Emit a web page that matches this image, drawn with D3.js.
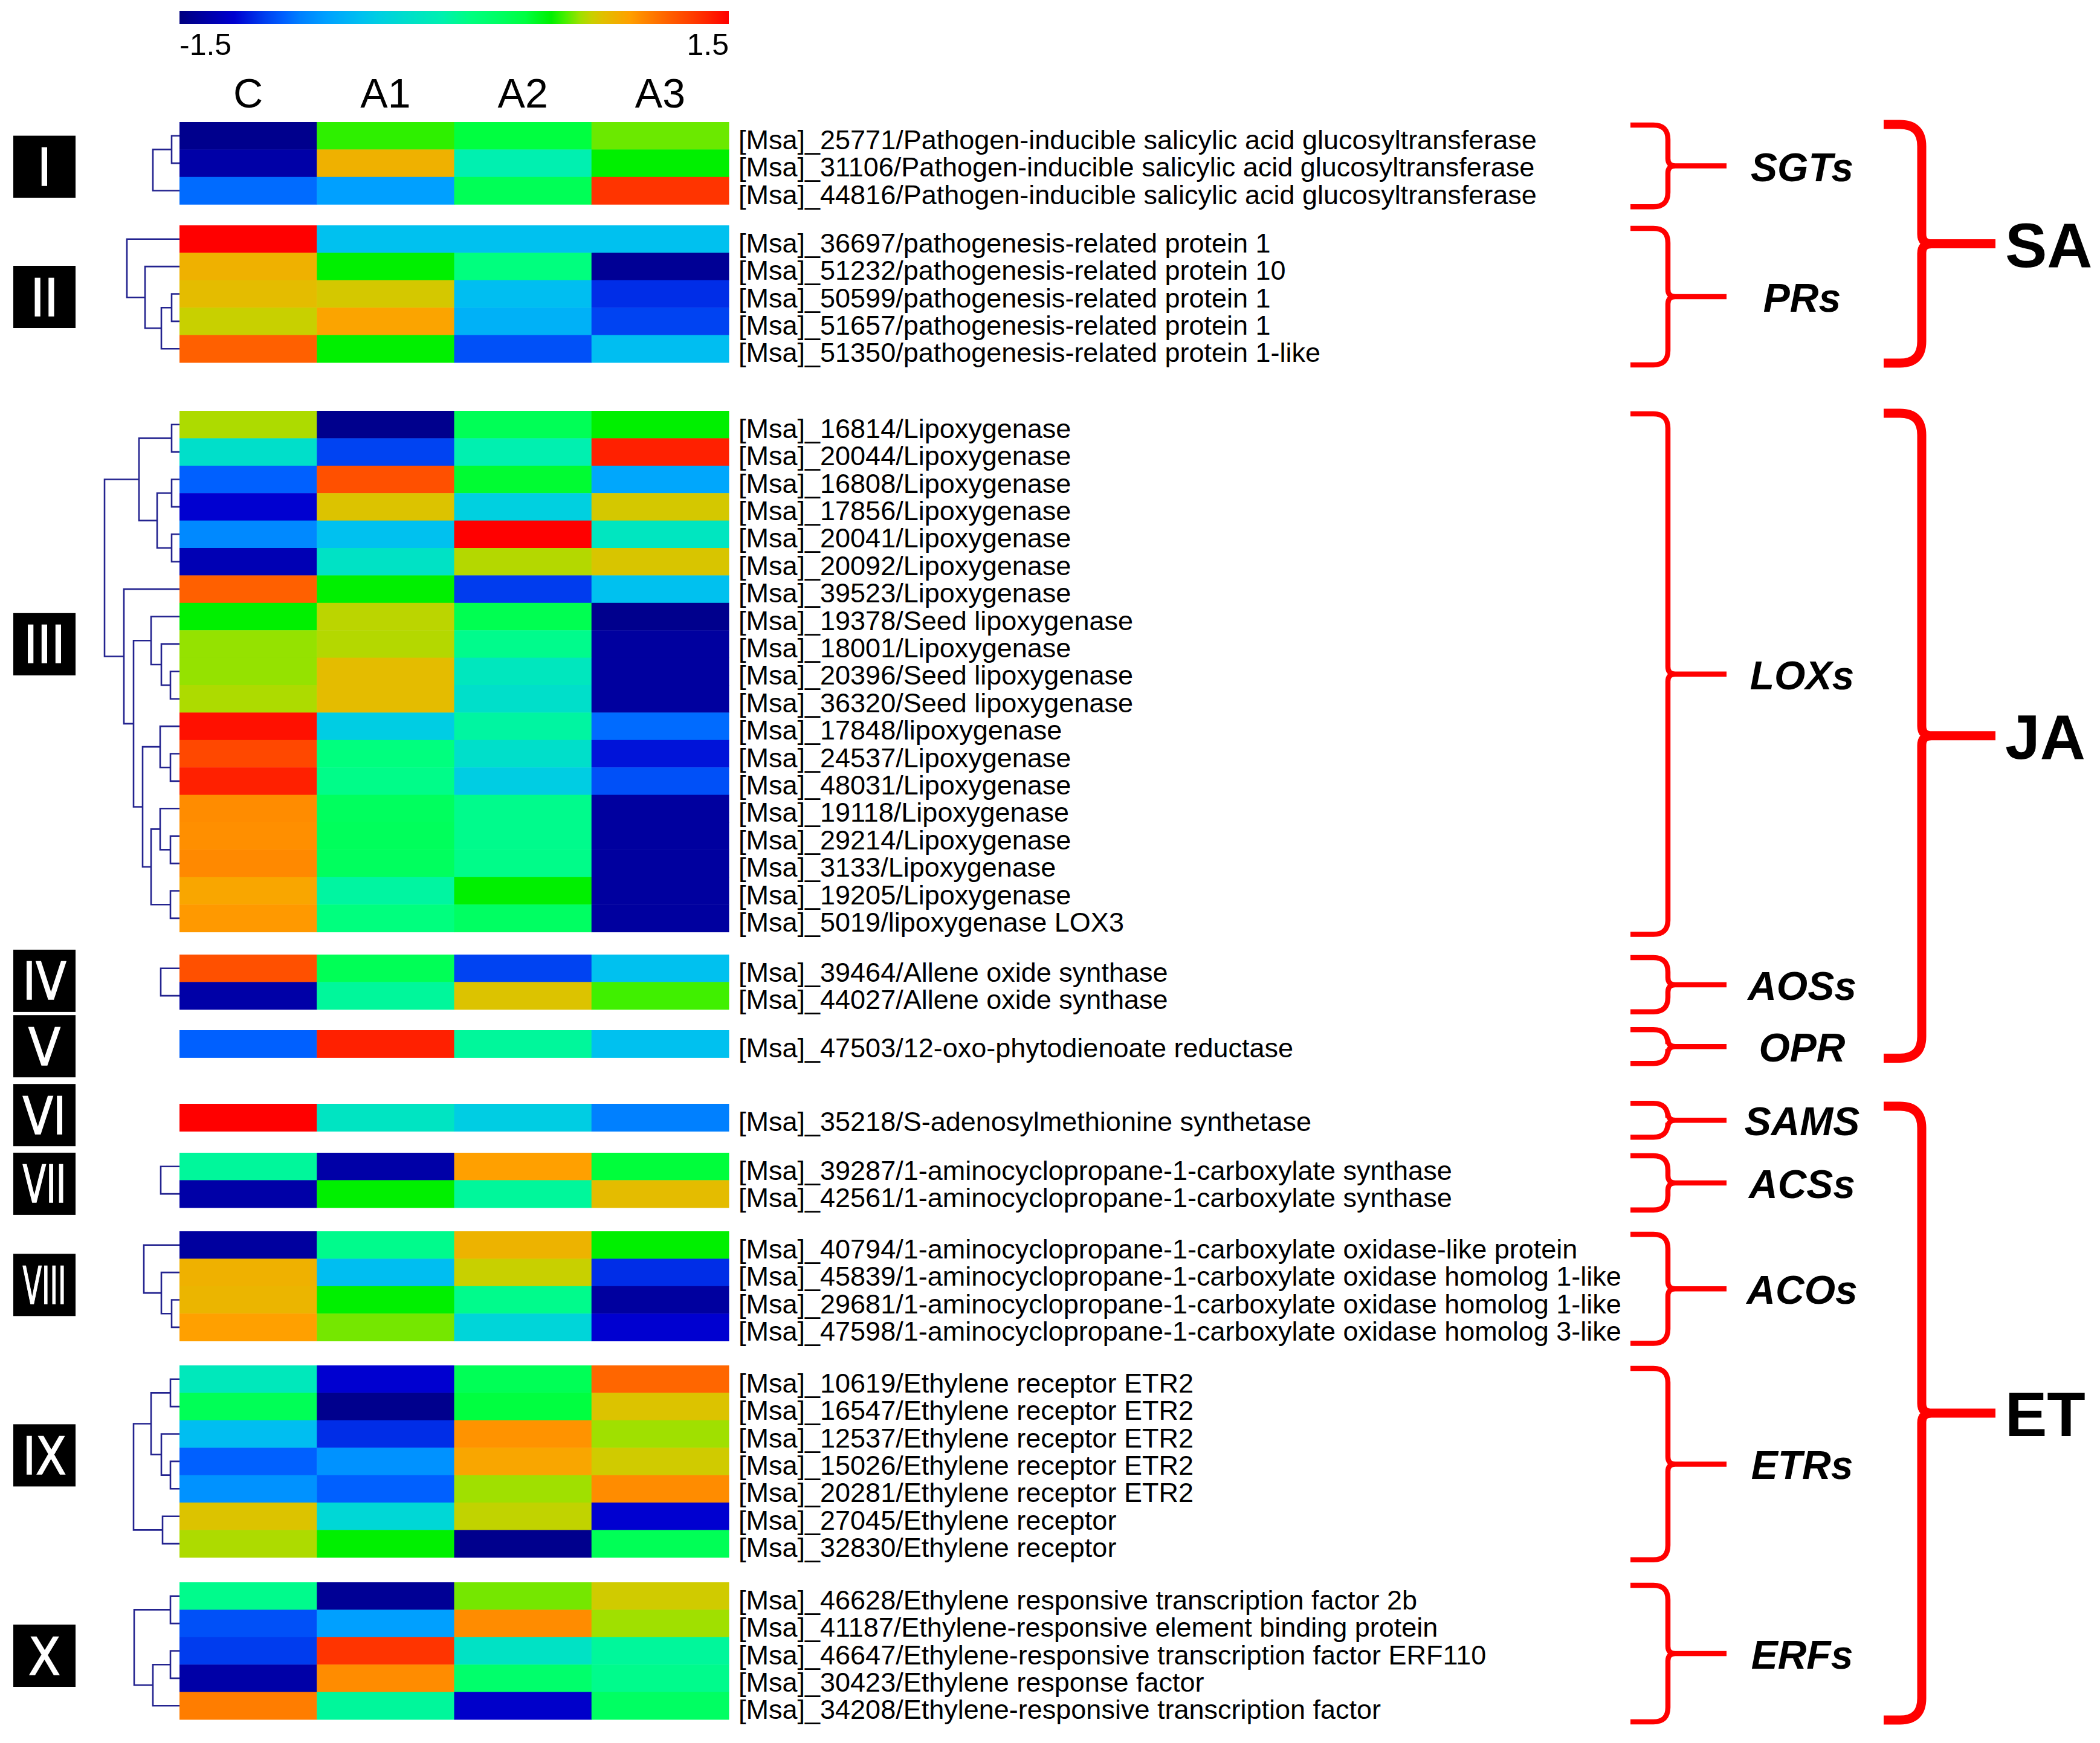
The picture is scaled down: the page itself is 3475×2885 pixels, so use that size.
<!DOCTYPE html>
<html><head><meta charset="utf-8">
<script src="https://cdn.jsdelivr.net/npm/d3@7"></script>
<style>html,body{margin:0;padding:0;background:#fff;} svg{display:block;}</style>
</head><body>
<svg id="chart" width="3475" height="2885"></svg>
<script>
// ---------------- DATA ----------------
const columns = ["C", "A1", "A2", "A3"];
const colorbarTicks = ["-1.5", "1.5"];
const colorDomain = [-1.5, 1.5];
const sectionNames = ["I", "II", "III", "IV", "V", "VI", "VII", "VIII", "IX", "X"];

const colorStopValues = [-1.5,-1.3,-1.2,-1.03,-0.93,-0.84,-0.7,-0.51,-0.4,-0.24,-0.07,0.09,0.26,0.39,0.53,0.6,0.69,0.75,0.81,0.885,0.96,1.02,1.17,1.29,1.4,1.5];
const colorStopColors = ["#000080","#0000B4","#0000D0","#0040F0","#0060FF","#0080FF","#00A0FF","#00C0F0","#00D0E0","#00E0C8","#00F0B0","#00FF80","#00FF60","#00FF40","#00F000","#40F000","#A0E000","#C8D000","#E0C000","#F0B000","#FFA000","#FF8C00","#FF6000","#FF4000","#FF2000","#FF0000"];

const labelsI = [
  "[Msa]_25771/Pathogen-inducible salicylic acid glucosyltransferase",
  "[Msa]_31106/Pathogen-inducible salicylic acid glucosyltransferase",
  "[Msa]_44816/Pathogen-inducible salicylic acid glucosyltransferase"];
const valuesI = [[-1.45,0.58,0.39,0.64],[-1.35,0.88,-0.07,0.53],[-0.9,-0.7,0.3,1.33]];

const labelsII = [
  "[Msa]_36697/pathogenesis-related protein 1",
  "[Msa]_51232/pathogenesis-related protein 10",
  "[Msa]_50599/pathogenesis-related protein 1",
  "[Msa]_51657/pathogenesis-related protein 1",
  "[Msa]_51350/pathogenesis-related protein 1-like"];
const valuesII = [[1.5,-0.5,-0.5,-0.5],[0.88,0.53,0.1,-1.42],[0.83,0.78,-0.52,-1.08],[0.75,0.94,-0.6,-1.02],[1.17,0.53,-0.98,-0.52]];

const labelsIII = [
  "[Msa]_16814/Lipoxygenase","[Msa]_20044/Lipoxygenase","[Msa]_16808/Lipoxygenase",
  "[Msa]_17856/Lipoxygenase","[Msa]_20041/Lipoxygenase","[Msa]_20092/Lipoxygenase",
  "[Msa]_39523/Lipoxygenase","[Msa]_19378/Seed lipoxygenase","[Msa]_18001/Lipoxygenase",
  "[Msa]_20396/Seed lipoxygenase","[Msa]_36320/Seed lipoxygenase","[Msa]_17848/lipoxygenase",
  "[Msa]_24537/Lipoxygenase","[Msa]_48031/Lipoxygenase","[Msa]_19118/Lipoxygenase",
  "[Msa]_29214/Lipoxygenase","[Msa]_3133/Lipoxygenase","[Msa]_19205/Lipoxygenase",
  "[Msa]_5019/lipoxygenase LOX3"];
const valuesIII = [
  [0.71,-1.45,0.3,0.53],[-0.25,-1.02,-0.07,1.4],[-0.93,1.23,0.42,-0.66],
  [-1.2,0.8,-0.4,0.78],[-0.8,-0.5,1.5,-0.18],[-1.3,-0.22,0.72,0.79],
  [1.17,0.53,-1.04,-0.5],[0.53,0.73,0.32,-1.45],[0.68,0.72,0.05,-1.38],
  [0.68,0.83,-0.17,-1.38],[0.71,0.83,-0.25,-1.38],[1.45,-0.42,-0.02,-0.9],
  [1.26,0.1,-0.25,-1.15],[1.4,0.06,-0.42,-0.98],[1.02,0.27,0.05,-1.38],
  [1.01,0.28,0.05,-1.38],[1.03,0.27,0.06,-1.38],[0.93,-0.02,0.53,-1.38],
  [0.98,0.1,0.25,-1.38]];

const labelsIV = ["[Msa]_39464/Allene oxide synthase","[Msa]_44027/Allene oxide synthase"];
const valuesIV = [[1.23,0.3,-1.02,-0.5],[-1.35,0.0,0.8,0.6]];

const labelsV = ["[Msa]_47503/12-oxo-phytodienoate reductase"];
const valuesV = [[-0.93,1.4,0.0,-0.5]];

const labelsVI = ["[Msa]_35218/S-adenosylmethionine synthetase"];
const valuesVI = [[1.5,-0.2,-0.42,-0.84]];

const labelsVII = [
  "[Msa]_39287/1-aminocyclopropane-1-carboxylate synthase",
  "[Msa]_42561/1-aminocyclopropane-1-carboxylate synthase"];
const valuesVII = [[0.0,-1.35,0.96,0.4],[-1.35,0.53,0.0,0.83]];

const labelsVIII = [
  "[Msa]_40794/1-aminocyclopropane-1-carboxylate oxidase-like protein",
  "[Msa]_45839/1-aminocyclopropane-1-carboxylate oxidase homolog 1-like",
  "[Msa]_29681/1-aminocyclopropane-1-carboxylate oxidase homolog 1-like",
  "[Msa]_47598/1-aminocyclopropane-1-carboxylate oxidase homolog 3-like"];
const valuesVIII = [[-1.38,0.05,0.87,0.53],[0.88,-0.52,0.75,-1.08],[0.86,0.53,0.05,-1.38],[0.96,0.65,-0.35,-1.2]];

const labelsIX = [
  "[Msa]_10619/Ethylene receptor ETR2","[Msa]_16547/Ethylene receptor ETR2",
  "[Msa]_12537/Ethylene receptor ETR2","[Msa]_15026/Ethylene receptor ETR2",
  "[Msa]_20281/Ethylene receptor ETR2","[Msa]_27045/Ethylene receptor",
  "[Msa]_32830/Ethylene receptor"];
const valuesIX = [[-0.15,-1.2,0.3,1.15],[0.3,-1.45,0.39,0.8],[-0.52,-1.08,1.0,0.69],[-0.93,-0.76,0.93,0.77],[-0.76,-0.93,0.69,1.02],[0.8,-0.33,0.74,-1.2],[0.71,0.53,-1.45,0.3]];

const labelsX = [
  "[Msa]_46628/Ethylene responsive transcription factor 2b",
  "[Msa]_41187/Ethylene-responsive element binding protein",
  "[Msa]_46647/Ethylene-responsive transcription factor ERF110",
  "[Msa]_30423/Ethylene response factor",
  "[Msa]_34208/Ethylene-responsive transcription factor"];
const valuesX = [[0.05,-1.42,0.65,0.77],[-0.98,-0.7,1.02,0.69],[-1.04,1.33,-0.22,0.0],[-1.35,1.02,0.2,0.05],[1.07,0.0,-1.22,0.25]];

// dendrograms: [left, right, distance]; numbers are leaf row indices
const treeI = [[0,1,13],2,44];
const treeII = [0,[1,[[2,3,13],4,30],57],87];
const treeIII = [[[0,1,13],[[2,3,13],[4,5,13],37],67],
  [6,[[7,[8,[9,10,15],30],47],[[11,[12,13,15],32],[[14,[15,16,15],32],[17,18,15],47],61],76],92],124];
const treeIV = [0,1,31];
const treeV = null;
const treeVI = null;
const treeVII = [0,1,31];
const treeVIII = [0,[1,[2,3,13],30],59];
const treeIX = [[[0,1,15],[2,[3,4,15],30],47],[5,6,28],76];
const treeX = [[0,1,15],[[2,3,15],4,44],75];

// functional groups
const groupNames = ["SGTs","PRs","LOXs","AOSs","OPR","SAMS","ACSs","ACOs","ETRs","ERFs"];
const groupSections = [[0],[1],[2],[3],[4],[5],[6],[7],[8],[9]];
const hormoneNames = ["SA","JA","ET"];
const hormoneSections = [[0,1],[2,3,4],[5,6,7,8,9]];

// ---------------- LAYOUT ----------------
const W = 3475, H = 2885;
const heatLeft = 297, heatRight = 1206;
const rowH = 45.4;
const sectionTops = [202, 373, 680, 1580, 1705, 1827, 1908, 2038, 2260, 2619];
const boxOffsets = [6, 5, -45, -2, 4, -4, 6, -2, -10, 8];
const labelX = 1222;

const sectionLabels = [labelsI,labelsII,labelsIII,labelsIV,labelsV,labelsVI,labelsVII,labelsVIII,labelsIX,labelsX];
const sectionValues = [valuesI,valuesII,valuesIII,valuesIV,valuesV,valuesVI,valuesVII,valuesVIII,valuesIX,valuesX];
const sectionTrees = [treeI,treeII,treeIII,treeIV,treeV,treeVI,treeVII,treeVIII,treeIX,treeX];

const svg = d3.select("#chart").attr("viewBox", `0 0 ${W} ${H}`);
svg.append("rect").attr("width", W).attr("height", H).attr("fill", "#fff");

const color = d3.scaleLinear().domain(colorStopValues).range(colorStopColors)
  .interpolate(d3.interpolateRgb).clamp(true);
const x = d3.scaleBand().domain(columns).range([heatLeft, heatRight]).padding(0);

// colorbar
const cb = d3.scaleLinear().domain(colorDomain).range([heatLeft, heatRight]);
const defs = svg.append("defs");
const grad = defs.append("linearGradient").attr("id", "cbgrad").attr("x1", "0%").attr("x2", "100%");
colorStopValues.forEach((v, i) => {
  grad.append("stop").attr("offset", ((v - colorDomain[0]) / (colorDomain[1] - colorDomain[0]) * 100) + "%")
    .attr("stop-color", colorStopColors[i]);
});
svg.append("rect").attr("x", cb(colorDomain[0])).attr("y", 18)
  .attr("width", cb(colorDomain[1]) - cb(colorDomain[0])).attr("height", 22).attr("fill", "url(#cbgrad)");
svg.append("text").attr("x", cb(colorDomain[0])).attr("y", 91).attr("text-anchor", "start")
  .attr("font-family", "Liberation Sans, Arial, sans-serif").attr("font-size", 50).text(colorbarTicks[0]);
svg.append("text").attr("x", cb(colorDomain[1])).attr("y", 91).attr("text-anchor", "end")
  .attr("font-family", "Liberation Sans, Arial, sans-serif").attr("font-size", 50).text(colorbarTicks[1]);

// column headers
svg.append("g").selectAll("text").data(columns).join("text")
  .attr("x", d => x(d) + x.bandwidth() / 2).attr("y", 178)
  .attr("text-anchor", "middle").attr("font-family", "Liberation Sans, Arial, sans-serif")
  .attr("font-size", 68).text(d => d);

const dist = d3.scaleLinear().domain([0, 124]).range([heatLeft, heatLeft - 124]);
const sectionY = [];

sectionNames.forEach((name, s) => {
  const vals = sectionValues[s], labs = sectionLabels[s];
  const n = vals.length;
  const y = d3.scaleBand().domain(d3.range(n)).range([sectionTops[s], sectionTops[s] + n * rowH]).padding(0);
  sectionY.push(y);
  const g = svg.append("g");
  // cells
  const cells = [];
  vals.forEach((row, r) => row.forEach((v, c) => cells.push({r, c: columns[c], v})));
  g.selectAll("rect.cell").data(cells).join("rect").attr("class", "cell")
    .attr("x", d => x(d.c)).attr("y", d => y(d.r))
    .attr("width", x.bandwidth() + 0.5).attr("height", y.bandwidth() + 0.5)
    .attr("fill", d => color(d.v));
  // labels
  g.selectAll("text.lab").data(labs).join("text").attr("class", "lab")
    .attr("x", labelX).attr("y", (d, i) => y(i) + y.bandwidth() / 2 + 22)
    .attr("font-family", "Liberation Sans, Arial, sans-serif").attr("font-size", 45)
    .attr("fill", "#000").text(d => d);
  // dendrogram
  const tree = sectionTrees[s];
  if (tree) {
    const yc = i => y(i) + y.bandwidth() / 2;
    const paths = [];
    const walk = node => {
      if (typeof node === "number") return {y: yc(node), h: 0};
      const A = walk(node[0]), B = walk(node[1]);
      const xx = dist(node[2]);
      paths.push(`M${dist(A.h)},${A.y}H${xx}V${B.y}H${dist(B.h)}`);
      return {y: (A.y + B.y) / 2, h: node[2]};
    };
    walk(tree);
    g.selectAll("path.dend").data(paths).join("path").attr("class", "dend")
      .attr("d", d => d).attr("fill", "none").attr("stroke", "#23238f").attr("stroke-width", 2.6);
  }
  // roman numeral box
  const cy = sectionTops[s] + n * rowH / 2 + boxOffsets[s];
  g.append("rect").attr("x", 22).attr("y", cy - 51.5).attr("width", 103).attr("height", 103).attr("fill", "#000");
  const t = g.append("text").attr("x", 73.5).attr("y", cy + 31).attr("text-anchor", "middle")
    .attr("font-family", "Liberation Sans Narrow, DejaVu Sans Condensed, Arial Narrow, sans-serif")
    .attr("font-weight", "normal").attr("font-size", 86).attr("fill", "#fff")
    .attr("stroke", "#fff").attr("stroke-width", 1.5).text(name);
  const len = t.node().getComputedTextLength();
  if (len > 72) t.attr("textLength", 72).attr("lengthAdjust", "spacingAndGlyphs");
});

// brackets
function bracketPath(x0, xv, xp, y0, y1, r, rc) {
  const ym = (y0 + y1) / 2;
  return `M${x0},${y0}L${xv - r},${y0}Q${xv},${y0} ${xv},${y0 + r}L${xv},${ym - rc}Q${xv},${ym} ${xv + rc},${ym}L${xp},${ym}` +
         `M${x0},${y1}L${xv - r},${y1}Q${xv},${y1} ${xv},${y1 - r}L${xv},${ym + rc}Q${xv},${ym} ${xv + rc},${ym}`;
}
function extent(secs) {
  const first = secs[0], last = secs[secs.length - 1];
  const top = sectionY[first].range()[0];
  const bot = sectionY[last].range()[1];
  return [top, bot];
}
const bg = svg.append("g");
groupNames.forEach((name, i) => {
  let [t, b] = extent(groupSections[i]);
  t += 5; b += 4;
  if (b - t < 56) { const m = (t + b) / 2; t = m - 28; b = m + 28; }
  bg.append("path").attr("d", bracketPath(2698, 2760, 2857, t, b, 24, 12))
    .attr("fill", "none").attr("stroke", "#ff0000").attr("stroke-width", 8.5);
  bg.append("text").attr("x", 2982).attr("y", (t + b) / 2 + 25).attr("text-anchor", "middle")
    .attr("font-family", "Liberation Sans, Arial, sans-serif").attr("font-weight", "bold")
    .attr("font-style", "italic").attr("font-size", 66).text(name);
});
hormoneNames.forEach((name, i) => {
  let [t, b] = extent(hormoneSections[i]);
  t += 4; b += 1;
  bg.append("path").attr("d", bracketPath(3117, 3180, 3302, t, b, 36, 16))
    .attr("fill", "none").attr("stroke", "#ff0000").attr("stroke-width", 15);
  bg.append("text").attr("x", 3318).attr("y", (t + b) / 2 + 38).attr("text-anchor", "start")
    .attr("font-family", "Liberation Sans, Arial, sans-serif").attr("font-weight", "bold")
    .attr("font-size", 104).text(name);
});
</script></body></html>
